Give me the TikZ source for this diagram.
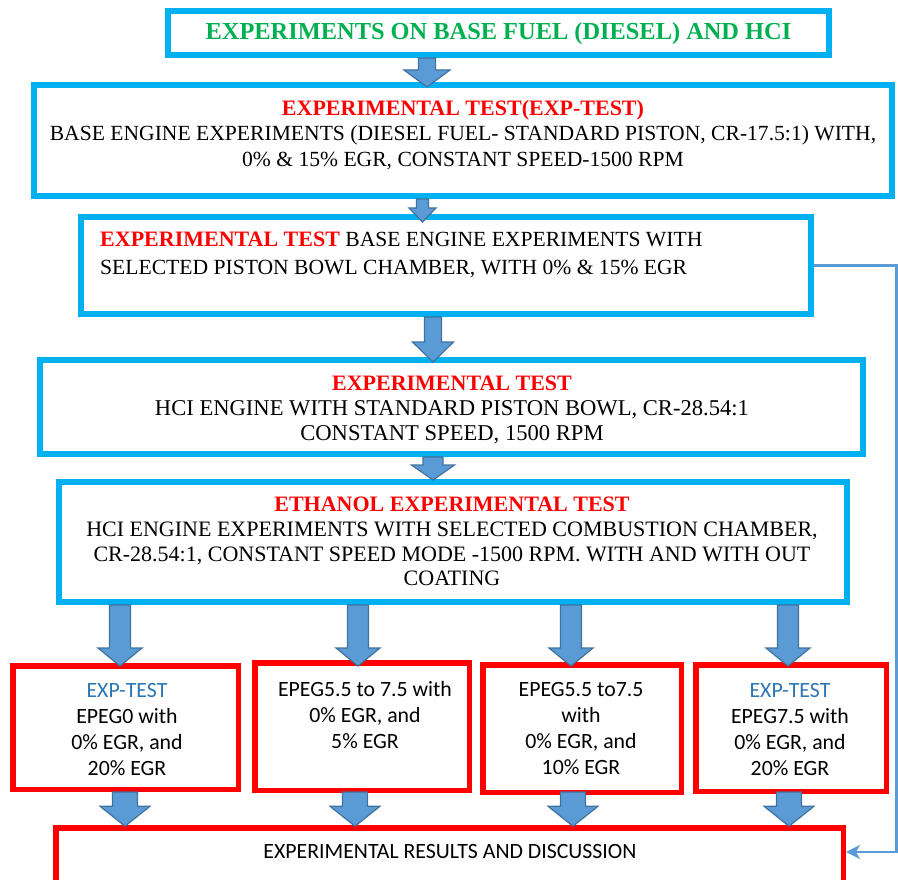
\documentclass[tikz,border=0pt]{standalone}
\usepackage{fontspec}
\setmainfont{Liberation Serif}
\newfontfamily\calibri{Carlito}
\usetikzlibrary{calc,arrows.meta}

\definecolor{cyanb}{HTML}{00B0F0}
\definecolor{redb}{HTML}{FF0000}
\definecolor{greent}{HTML}{00B050}
\definecolor{bluet}{HTML}{2E75B6}
\definecolor{arrfill}{HTML}{5B9BD5}
\definecolor{arrline}{HTML}{41719C}

\tikzset{
  bluebox/.style={draw=cyanb,line width=6pt,rectangle,inner sep=0pt},
  redbox/.style={draw=redb,line width=5.5pt,rectangle,inner sep=0pt},
  serif/.style={font=\fontsize{21.6}{25.5}\selectfont,align=center,inner sep=0pt},
  sans/.style={font=\calibri\fontsize{21.8}{26}\selectfont,align=center,inner sep=0pt},
  blockarrow/.style={fill=arrfill,draw=arrline,line width=1.2pt,line join=miter},
  link/.style={draw=arrfill,line width=2.2pt,-{Stealth[length=14pt,width=14pt,inset=4pt]}}
}
\newcommand\redhead[1]{\textcolor{redb}{\fontsize{22}{25}\selectfont\bfseries #1}}

% block arrow: start, tip, half shaft, half head, head length
\newcommand\blockarr[5]{%
  \draw[blockarrow] let \p1=(#1), \p2=(#2) in
    (\x1-#3,\y1) -- (\x1+#3,\y1) -- (\x1+#3,\y2+#5) -- (\x1+#4,\y2+#5)
    -- (\x1,\y2) -- (\x1-#4,\y2+#5) -- (\x1-#3,\y2+#5) -- cycle;}

\begin{document}
\begin{tikzpicture}[x=1pt,y=-1pt]
\useasboundingbox (0,0) rectangle (898,880);
\clip (0,0) rectangle (898,880);

% boxes
\node[bluebox,minimum width=661,minimum height=44] (base) at (498.5,33) {};
\node[bluebox,minimum width=858,minimum height=111] (exp) at (463,140.5) {};
\node[bluebox,minimum width=730,minimum height=97] (sel) at (446,265.5) {};
\node[bluebox,minimum width=823,minimum height=94] (hci) at (451.5,407) {};
\node[bluebox,minimum width=788,minimum height=120] (eth) at (453,542) {};

\node[redbox,minimum width=225.5,minimum height=123.5] (epa) at (125.5,727.5) {};
\node[redbox,minimum width=214.5,minimum height=127.5] (epb) at (362,726.5) {};
\node[redbox,minimum width=198.5,minimum height=127.5] (epc) at (582,728.5) {};
\node[redbox,minimum width=190.5,minimum height=126.5] (epd) at (791,728) {};
\node[redbox,minimum width=787.5,minimum height=56] (res) at (449.5,856) {};

% texts
\node[serif,font=\fontsize{24.4}{25}\selectfont\bfseries,text=greent] (baset) at (498.5,34)
  {EXPERIMENTS ON BASE FUEL (DIESEL) AND HCI};
\node[serif] (expt) at (463,135)
  {\redhead{EXPERIMENTAL TEST(EXP-TEST)}\\
   BASE ENGINE EXPERIMENTS (DIESEL FUEL- STANDARD PISTON, CR-17.5:1) WITH,\\
   0\% \& 15\% EGR, CONSTANT SPEED-1500 RPM};
\node[serif,font=\fontsize{21.6}{28}\selectfont,align=left,anchor=west] (selt) at (100,255)
  {\redhead{EXPERIMENTAL TEST} BASE ENGINE EXPERIMENTS WITH\\
   SELECTED PISTON BOWL CHAMBER, WITH 0\% \& 15\% EGR};
\node[serif,font=\fontsize{22.6}{25}\selectfont] (hcit) at (452,410)
  {\redhead{EXPERIMENTAL TEST}\\
   HCI ENGINE WITH STANDARD PISTON BOWL, CR-28.54:1\\
   CONSTANT SPEED, 1500 RPM};
\node[serif,font=\fontsize{22}{24.7}\selectfont] (etht) at (452,541.5)
  {\redhead{ETHANOL EXPERIMENTAL TEST}\\
   HCI ENGINE EXPERIMENTS WITH SELECTED COMBUSTION CHAMBER,\\
   CR-28.54:1, CONSTANT SPEED MODE -1500 RPM. WITH AND WITH OUT\\
   COATING};

\node[sans] (epat) at (127,730)
  {\textcolor{bluet}{EXP-TEST}\\ EPEG0 with\\ 0\% EGR, and\\ 20\% EGR};
\node[sans] (epbt) at (365,715)
  {EPEG5.5 to 7.5 with\\ 0\% EGR, and\\ 5\% EGR};
\node[sans] (epct) at (581,729)
  {EPEG5.5 to7.5\\ with\\ 0\% EGR, and\\ 10\% EGR};
\node[sans] (epdt) at (790,730)
  {\textcolor{bluet}{EXP-TEST}\\ EPEG7.5 with\\ 0\% EGR, and\\ 20\% EGR};
\node[sans] (rest) at (450,851.5) {EXPERIMENTAL RESULTS AND DISCUSSION};

% arrows down the column
\blockarr{427,0 |- base.south}{$(427,0 |- exp.north)+(0,5)$}{8.5pt}{23pt}{17pt}
\blockarr{422.5,0 |- exp.south}{$(422.5,0 |- sel.north)+(0,8)$}{6pt}{13.5pt}{14pt}
\blockarr{433,0 |- sel.south}{$(433,0 |- hci.north)+(0,5)$}{8.5pt}{20.5pt}{20pt}
\blockarr{433,0 |- hci.south}{$(433,0 |- eth.north)+(0,1)$}{10pt}{21.5pt}{15pt}

% arrows to the blend boxes and to the results
\foreach \xa in {120,358,571,788}
  \blockarr{\xa,0 |- eth.south}{$(\xa,0 |- epa.north)+(0,3)$}{10.5pt}{22pt}{18pt};
\foreach \xa in {125,355,573,789}
  \blockarr{\xa,0 |- epa.south}{$(\xa,0 |- res.north)+(0,1)$}{12.5pt}{25pt}{20pt};

% side link
\coordinate (rail) at (896.5,852);
\draw[link] (sel.east) -| (rail) -- (rail -| res.east);
\end{tikzpicture}
\end{document}
